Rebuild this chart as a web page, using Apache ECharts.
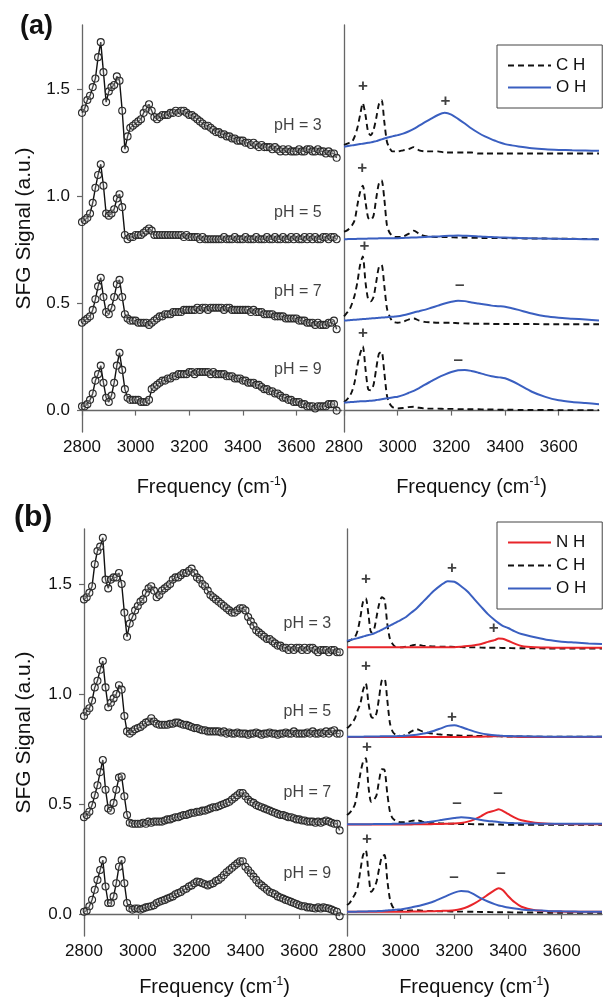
<!DOCTYPE html>
<html><head><meta charset="utf-8">
<script src="https://cdn.jsdelivr.net/npm/echarts@6/dist/echarts.min.js"></script>
<style>html,body{margin:0;padding:0;background:#fff}#c{width:603px;height:1001px}</style>
</head><body><div id="c"></div>
<script>
// ---------- measured spectra (left panels) ----------
const freq=[2800,2810,2820,2830,2840,2850,2860,2870,2880,2890,
2900,2910,2920,2930,2940,2950,2960,2970,2980,2990,
3000,3010,3020,3030,3040,3050,3060,3070,3080,3090,
3100,3110,3120,3130,3140,3150,3160,3170,3180,3190,
3200,3210,3220,3230,3240,3250,3260,3270,3280,3290,
3300,3310,3320,3330,3340,3350,3360,3370,3380,3390,
3400,3410,3420,3430,3440,3450,3460,3470,3480,3490,
3500,3510,3520,3530,3540,3550,3560,3570,3580,3590,
3600,3610,3620,3630,3640,3650,3660,3670,3680,3690,
3700,3710,3720,3730,3740,3750];
const yTicks=[0,0.5,1.0,1.5];
const xTicks=[2800,3000,3200,3400,3600];

const a_pH3=[1.39,1.41,1.45,1.47,1.51,1.55,1.65,1.72,1.58,1.44,
1.49,1.51,1.52,1.56,1.54,1.40,1.22,1.28,1.32,1.33,
1.34,1.35,1.36,1.39,1.41,1.43,1.40,1.37,1.36,1.37,
1.38,1.38,1.38,1.39,1.39,1.40,1.39,1.40,1.40,1.39,
1.38,1.38,1.37,1.36,1.35,1.34,1.33,1.33,1.32,1.31,
1.30,1.30,1.29,1.29,1.28,1.28,1.27,1.27,1.26,1.26,
1.26,1.25,1.25,1.24,1.25,1.24,1.23,1.24,1.23,1.23,
1.23,1.22,1.23,1.22,1.21,1.22,1.21,1.22,1.21,1.21,
1.21,1.22,1.21,1.21,1.22,1.22,1.21,1.21,1.22,1.21,
1.21,1.20,1.21,1.20,1.20,1.18];
const a_pH5=[0.88,0.89,0.90,0.92,0.97,1.04,1.10,1.15,1.05,0.92,
0.91,0.92,0.94,0.99,1.01,0.95,0.82,0.80,0.81,0.81,
0.82,0.82,0.82,0.83,0.84,0.85,0.84,0.82,0.82,0.82,
0.82,0.82,0.82,0.82,0.82,0.82,0.82,0.82,0.81,0.82,
0.81,0.81,0.81,0.81,0.80,0.81,0.80,0.80,0.80,0.80,
0.80,0.80,0.80,0.81,0.80,0.80,0.80,0.81,0.80,0.80,
0.80,0.81,0.80,0.80,0.80,0.81,0.80,0.80,0.80,0.81,
0.80,0.80,0.81,0.80,0.80,0.81,0.80,0.80,0.81,0.80,
0.81,0.80,0.80,0.81,0.80,0.81,0.80,0.81,0.80,0.80,
0.81,0.81,0.80,0.81,0.81,0.80];
const a_pH7=[0.41,0.42,0.43,0.44,0.47,0.52,0.58,0.62,0.53,0.46,
0.45,0.48,0.53,0.59,0.61,0.53,0.45,0.43,0.42,0.42,
0.42,0.41,0.41,0.41,0.41,0.40,0.41,0.42,0.43,0.44,
0.44,0.45,0.45,0.45,0.46,0.46,0.46,0.46,0.47,0.47,
0.47,0.47,0.47,0.48,0.47,0.48,0.48,0.47,0.48,0.48,
0.48,0.48,0.48,0.47,0.48,0.48,0.47,0.47,0.47,0.47,
0.47,0.47,0.47,0.46,0.47,0.46,0.46,0.46,0.45,0.45,
0.45,0.45,0.44,0.44,0.44,0.44,0.43,0.43,0.43,0.43,
0.43,0.42,0.42,0.42,0.41,0.41,0.41,0.40,0.41,0.40,
0.40,0.40,0.41,0.41,0.42,0.38];
const a_pH9=[0.02,0.02,0.03,0.05,0.08,0.14,0.17,0.21,0.13,0.06,
0.04,0.07,0.13,0.21,0.27,0.19,0.10,0.06,0.05,0.05,
0.05,0.05,0.04,0.04,0.04,0.05,0.10,0.11,0.12,0.13,
0.14,0.14,0.15,0.15,0.16,0.16,0.17,0.17,0.17,0.17,
0.18,0.18,0.17,0.18,0.18,0.18,0.18,0.18,0.17,0.18,
0.17,0.17,0.17,0.17,0.16,0.16,0.16,0.15,0.15,0.15,
0.14,0.14,0.13,0.13,0.13,0.12,0.12,0.11,0.10,0.10,
0.09,0.09,0.08,0.08,0.07,0.06,0.06,0.05,0.05,0.04,
0.04,0.04,0.03,0.03,0.02,0.02,0.02,0.01,0.02,0.02,
0.02,0.02,0.03,0.03,0.03,0.00];

const b_pH3=[1.43,1.44,1.46,1.49,1.59,1.65,1.67,1.71,1.52,1.48,
1.52,1.53,1.53,1.55,1.50,1.37,1.26,1.32,1.35,1.38,
1.40,1.42,1.43,1.46,1.48,1.49,1.47,1.44,1.45,1.47,
1.48,1.49,1.50,1.52,1.53,1.53,1.54,1.55,1.55,1.56,
1.57,1.55,1.53,1.52,1.50,1.49,1.47,1.45,1.44,1.43,
1.42,1.41,1.40,1.39,1.38,1.37,1.37,1.38,1.39,1.39,
1.38,1.35,1.33,1.31,1.29,1.28,1.27,1.26,1.25,1.25,
1.24,1.23,1.22,1.22,1.21,1.21,1.20,1.21,1.20,1.21,
1.21,1.20,1.21,1.20,1.21,1.21,1.20,1.19,1.20,1.20,
1.20,1.19,1.20,1.20,1.19,1.19];
const b_pH5=[0.90,0.92,0.935,0.97,1.03,1.06,1.11,1.15,1.03,0.94,
0.96,0.98,1.00,1.04,1.02,0.90,0.83,0.82,0.83,0.84,
0.845,0.85,0.86,0.87,0.875,0.89,0.875,0.865,0.86,0.86,
0.86,0.86,0.865,0.865,0.87,0.87,0.865,0.86,0.86,0.855,
0.85,0.845,0.845,0.84,0.835,0.835,0.83,0.83,0.83,0.83,
0.83,0.825,0.83,0.82,0.825,0.82,0.82,0.825,0.82,0.82,
0.82,0.815,0.82,0.82,0.825,0.82,0.815,0.82,0.82,0.825,
0.82,0.82,0.815,0.82,0.82,0.825,0.82,0.82,0.83,0.82,
0.82,0.82,0.82,0.825,0.82,0.83,0.82,0.82,0.825,0.82,
0.83,0.82,0.83,0.835,0.82,0.82];
const b_pH7=[0.44,0.45,0.465,0.495,0.54,0.585,0.645,0.70,0.565,0.48,
0.47,0.505,0.565,0.62,0.625,0.535,0.45,0.415,0.41,0.41,
0.41,0.41,0.415,0.41,0.42,0.415,0.42,0.42,0.42,0.42,
0.425,0.43,0.43,0.435,0.44,0.44,0.445,0.45,0.45,0.455,
0.46,0.46,0.465,0.465,0.47,0.47,0.475,0.48,0.485,0.485,
0.49,0.495,0.50,0.505,0.51,0.52,0.53,0.54,0.55,0.55,
0.535,0.52,0.51,0.505,0.495,0.49,0.485,0.48,0.475,0.47,
0.465,0.46,0.455,0.45,0.45,0.445,0.44,0.44,0.435,0.43,
0.43,0.425,0.425,0.42,0.42,0.42,0.415,0.42,0.415,0.42,
0.425,0.42,0.415,0.41,0.41,0.38];
const b_pH9=[0.01,0.015,0.035,0.065,0.11,0.155,0.20,0.245,0.125,0.05,
0.05,0.08,0.14,0.215,0.245,0.14,0.05,0.027,0.02,0.025,
0.025,0.02,0.025,0.03,0.033,0.035,0.04,0.05,0.056,0.06,
0.064,0.07,0.075,0.08,0.09,0.095,0.10,0.11,0.115,0.125,
0.13,0.14,0.147,0.145,0.14,0.135,0.13,0.135,0.14,0.15,
0.155,0.165,0.177,0.19,0.20,0.21,0.22,0.23,0.24,0.24,
0.215,0.20,0.185,0.17,0.155,0.14,0.13,0.12,0.11,0.10,
0.095,0.09,0.08,0.075,0.07,0.064,0.06,0.055,0.05,0.045,
0.04,0.035,0.035,0.03,0.03,0.027,0.025,0.03,0.025,0.03,
0.027,0.025,0.02,0.015,0.01,-0.01];

// ---------- fitted components (right panels) ----------
const fitFreq=[2800,2810,2820,2830,2840,2850,2860,2870,2880,2890,2900,2910,2920,2930,2940,2950,2960,2970,2980,2990,3000,
3020,3040,3060,3080,3100,
3125,3150,3175,3200,3225,3250,3275,3300,3325,3350,
3365,3380,3400,3425,3450,
3500,3550,3600,3650,3700,3750];

const aCH3=[1.24,1.245,1.25,1.255,1.28,1.32,1.38,1.435,1.38,1.30,1.285,1.31,1.365,1.43,1.45,1.35,1.255,1.225,1.21,1.21,1.21,
1.215,1.22,1.23,1.215,1.21,
1.21,1.21,1.205,1.205,1.205,1.205,1.205,1.2,1.2,1.2,
1.2,1.2,1.2,1.2,1.2,
1.2,1.2,1.2,1.2,1.2,1.2];
const aOH3=[1.232,1.234,1.236,1.238,1.24,1.242,1.244,1.246,1.248,1.25,1.252,1.255,1.258,1.262,1.266,1.27,1.274,1.277,1.28,1.283,1.286,
1.293,1.303,1.315,1.33,1.345,
1.363,1.38,1.39,1.382,1.362,1.34,1.317,1.297,1.28,1.266,
1.259,1.252,1.244,1.238,1.233,
1.225,1.22,1.217,1.215,1.214,1.213];
const aCH5=[0.835,0.84,0.85,0.865,0.89,0.96,1.02,1.05,0.975,0.90,0.89,0.91,0.99,1.06,1.075,0.99,0.865,0.83,0.815,0.81,0.81,
0.812,0.825,0.84,0.825,0.815,
0.812,0.81,0.81,0.809,0.808,0.808,0.807,0.806,0.806,0.805,
0.805,0.805,0.805,0.804,0.804,
0.803,0.803,0.802,0.802,0.801,0.80];
const aOH5=[0.80,0.80,0.801,0.801,0.801,0.802,0.802,0.802,0.802,0.803,0.803,0.803,0.803,0.804,0.804,0.804,0.804,0.805,0.805,0.805,0.805,
0.806,0.807,0.808,0.809,0.81,
0.812,0.813,0.815,0.816,0.817,0.816,0.815,0.813,0.811,0.81,
0.809,0.808,0.808,0.807,0.806,
0.804,0.803,0.802,0.801,0.80,0.80];
const aCH7=[0.44,0.455,0.47,0.50,0.54,0.60,0.68,0.72,0.60,0.52,0.51,0.53,0.60,0.67,0.68,0.585,0.477,0.44,0.417,0.412,0.41,
0.415,0.425,0.43,0.42,0.414,
0.412,0.41,0.41,0.41,0.408,0.407,0.406,0.405,0.405,0.405,
0.404,0.404,0.404,0.404,0.404,
0.404,0.403,0.403,0.403,0.403,0.403];
const aOH7=[0.42,0.421,0.422,0.423,0.424,0.425,0.426,0.427,0.428,0.429,0.43,0.431,0.432,0.433,0.434,0.435,0.436,0.437,0.438,0.439,0.44,
0.445,0.451,0.458,0.464,0.47,
0.48,0.49,0.50,0.508,0.513,0.511,0.505,0.50,0.495,0.49,
0.488,0.487,0.485,0.478,0.47,
0.453,0.44,0.433,0.429,0.425,0.42];
const aCH9=[0.04,0.05,0.065,0.09,0.135,0.21,0.265,0.30,0.195,0.10,0.095,0.12,0.195,0.265,0.275,0.18,0.07,0.033,0.017,0.012,0.01,
0.012,0.016,0.018,0.013,0.01,
0.009,0.009,0.008,0.008,0.007,0.007,0.006,0.006,0.005,0.005,
0.005,0.004,0.004,0.004,0.003,
0.003,0.003,0.002,0.002,0.002,0.002];
const aOH9=[0.037,0.038,0.039,0.04,0.041,0.042,0.043,0.044,0.044,0.045,0.046,0.047,0.049,0.051,0.053,0.055,0.057,0.059,0.061,0.063,0.065,
0.072,0.082,0.092,0.105,0.12,
0.137,0.154,0.168,0.18,0.188,0.19,0.185,0.177,0.168,0.16,
0.157,0.155,0.151,0.138,0.122,
0.088,0.064,0.048,0.04,0.035,0.03];

const bCH3=[1.238,1.243,1.25,1.26,1.29,1.35,1.42,1.435,1.36,1.28,1.29,1.35,1.41,1.44,1.43,1.32,1.25,1.227,1.215,1.212,1.212,
1.215,1.22,1.225,1.22,1.218,
1.216,1.215,1.215,1.214,1.213,1.212,1.212,1.211,1.21,1.21,
1.21,1.209,1.209,1.208,1.208,
1.208,1.207,1.207,1.207,1.207,1.207];
const bOH3=[1.242,1.245,1.248,1.251,1.254,1.258,1.261,1.265,1.268,1.271,1.275,1.28,1.286,1.292,1.298,1.305,1.311,1.317,1.323,1.33,1.336,
1.35,1.37,1.39,1.415,1.44,
1.47,1.495,1.513,1.51,1.49,1.465,1.43,1.396,1.363,1.336,
1.322,1.31,1.30,1.285,1.273,
1.258,1.245,1.238,1.234,1.23,1.227];
const bNH3=[1.212,1.212,1.212,1.212,1.212,1.212,1.212,1.212,1.212,1.212,1.212,1.212,1.212,1.212,1.212,1.212,1.212,1.212,1.212,1.212,1.212,
1.212,1.212,1.212,1.212,1.212,
1.212,1.212,1.213,1.213,1.215,1.218,1.222,1.227,1.237,1.245,
1.252,1.251,1.242,1.229,1.218,
1.212,1.211,1.21,1.21,1.21,1.21];
const bCH5=[0.844,0.855,0.87,0.89,0.927,0.957,1.018,1.048,0.958,0.897,0.89,0.913,0.988,1.064,1.068,0.973,0.867,0.829,0.816,0.811,0.809,
0.815,0.83,0.84,0.83,0.824,
0.819,0.816,0.814,0.812,0.811,0.81,0.81,0.809,0.808,0.808,
0.808,0.807,0.807,0.807,0.807,
0.806,0.806,0.806,0.806,0.806,0.806];
const bOH5=[0.806,0.806,0.806,0.806,0.806,0.806,0.806,0.807,0.807,0.807,0.807,0.807,0.807,0.808,0.808,0.808,0.808,0.808,0.808,0.809,0.809,
0.81,0.812,0.815,0.819,0.824,
0.833,0.844,0.855,0.858,0.85,0.839,0.829,0.821,0.816,0.812,
0.811,0.81,0.809,0.808,0.808,
0.807,0.806,0.806,0.806,0.806,0.806];
const bNH5=[0.805,0.805,0.805,0.805,0.805,0.805,0.805,0.805,0.805,0.805,0.805,0.805,0.805,0.805,0.805,0.805,0.805,0.805,0.805,0.805,0.805,
0.805,0.805,0.805,0.805,0.805,
0.805,0.805,0.805,0.805,0.805,0.805,0.806,0.806,0.807,0.808,
0.809,0.808,0.807,0.806,0.805,
0.805,0.805,0.805,0.805,0.805,0.805];
const bCH7=[0.45,0.46,0.475,0.50,0.564,0.64,0.692,0.708,0.578,0.51,0.518,0.54,0.61,0.658,0.655,0.549,0.465,0.435,0.425,0.42,0.417,
0.418,0.423,0.427,0.42,0.415,
0.413,0.412,0.411,0.41,0.409,0.409,0.408,0.408,0.407,0.407,
0.407,0.406,0.406,0.406,0.406,
0.405,0.405,0.405,0.405,0.405,0.405];
const bOH7=[0.408,0.408,0.408,0.408,0.408,0.408,0.408,0.408,0.408,0.408,0.409,0.409,0.409,0.409,0.409,0.409,0.409,0.41,0.41,0.41,0.41,
0.411,0.412,0.413,0.415,0.418,
0.422,0.427,0.432,0.436,0.44,0.438,0.433,0.427,0.423,0.42,
0.418,0.416,0.414,0.413,0.412,
0.411,0.41,0.41,0.41,0.41,0.41];
const bNH7=[0.407,0.407,0.407,0.407,0.407,0.407,0.407,0.407,0.407,0.407,0.407,0.407,0.407,0.407,0.407,0.407,0.407,0.407,0.407,0.407,0.407,
0.407,0.407,0.408,0.408,0.408,
0.409,0.409,0.41,0.411,0.414,0.42,0.43,0.445,0.462,0.47,
0.476,0.469,0.455,0.438,0.426,
0.415,0.41,0.409,0.408,0.408,0.408];
const bCH9=[0.041,0.05,0.071,0.09,0.124,0.20,0.268,0.29,0.185,0.101,0.117,0.147,0.208,0.26,0.268,0.155,0.067,0.033,0.021,0.017,0.015,
0.015,0.016,0.017,0.015,0.014,
0.013,0.012,0.012,0.011,0.011,0.01,0.01,0.009,0.009,0.008,
0.008,0.008,0.008,0.007,0.007,
0.007,0.006,0.006,0.006,0.006,0.006];
const bOH9=[0.01,0.01,0.01,0.01,0.011,0.011,0.011,0.011,0.012,0.012,0.013,0.013,0.014,0.014,0.015,0.016,0.017,0.018,0.019,0.02,0.021,
0.025,0.03,0.035,0.041,0.048,
0.058,0.071,0.085,0.097,0.104,0.102,0.088,0.071,0.057,0.045,
0.039,0.035,0.03,0.025,0.021,
0.017,0.014,0.012,0.011,0.01,0.01];
const bNH9=[0.01,0.01,0.01,0.01,0.01,0.01,0.01,0.01,0.01,0.01,0.01,0.01,0.01,0.01,0.01,0.01,0.01,0.01,0.01,0.01,0.01,
0.01,0.011,0.011,0.011,0.012,
0.013,0.014,0.015,0.017,0.023,0.033,0.048,0.067,0.088,0.109,
0.117,0.109,0.082,0.053,0.033,
0.017,0.012,0.011,0.01,0.01,0.01];

// ---------- annotations ----------
const pHLabelsA=[['pH = 3',3605,1.33],['pH = 5',3605,0.925],['pH = 7',3605,0.556],['pH = 9',3605,0.19]];
const pHLabelsB=[['pH = 3',3630,1.32],['pH = 5',3630,0.92],['pH = 7',3630,0.55],['pH = 9',3630,0.185]];
const signsA=[['+',2871,1.514],['+',3178,1.444],['+',2868,1.131],['+',2876,0.766],['\u2013',3231,0.584],['+',2871,0.36],['\u2013',3226,0.234]];
const signsB=[['+',2871,1.523],['+',3191,1.573],['+',3347,1.30],['+',2871,1.127],['+',3191,0.895],['+',2874,0.759],['\u2013',3210,0.505],['\u2013',3362,0.55],['+',2874,0.341],['\u2013',3199,0.168],['\u2013',3374,0.186]];

const FONT='"Liberation Sans", Arial, sans-serif';
const TXT='#111', AX='#666';
const C_CH='#111111', C_OH='#3a5fc0', C_NH='#e8252a';
const zip=(xs,ys)=>xs.map((x,i)=>[x,ys[i]]);

function xAxis(gi,max,gap){
  return {type:'value',gridIndex:gi,min:2800,max:max,
    axisLine:{show:true,lineStyle:{color:AX,width:1.3}},
    axisTick:{show:true,inside:false,length:5,lineStyle:{color:AX,width:1.2},customValues:xTicks},
    axisLabel:{show:true,margin:7,fontSize:17,color:TXT,fontFamily:FONT,customValues:xTicks,formatter:v=>String(v)},
    splitLine:{show:false},
    name:'{n|Frequency (cm}{s|-1}{n|)}',nameLocation:'middle',nameGap:gap,
    nameTextStyle:{rich:{n:{fontSize:20,color:TXT,fontFamily:FONT,lineHeight:22},s:{fontSize:12,color:TXT,fontFamily:FONT,verticalAlign:'top',lineHeight:13}}}};
}
function yAxis(gi,max,left,gap){
  const o={type:'value',gridIndex:gi,min:-0.1,max:max,
    axisLine:{show:true,lineStyle:{color:AX,width:1.3}},
    axisTick:{show:left,inside:false,length:5,lineStyle:{color:AX,width:1.2},customValues:yTicks},
    axisLabel:{show:left,margin:12,fontSize:17,color:TXT,fontFamily:FONT,customValues:yTicks,formatter:v=>(+v).toFixed(1)},
    splitLine:{show:false}};
  if(left){o.name='SFG Signal (a.u.)';o.nameLocation='middle';o.nameGap=gap;
    o.nameTextStyle={fontSize:21,color:TXT,fontFamily:FONT};}
  return o;
}
function dataSeries(name,xi,ys){
  return {name:name,type:'line',xAxisIndex:xi,yAxisIndex:xi,data:zip(freq,ys),
    showSymbol:true,showAllSymbol:true,symbol:'circle',symbolSize:7,
    lineStyle:{color:'#111',width:1.4},
    itemStyle:{color:'rgba(230,230,230,0.25)',borderColor:'#2a2a2a',borderWidth:1.1},
    emphasis:{disabled:true},z:2};
}
function fitSeries(name,xi,ys,color,dashed){
  return {name:name,type:'line',xAxisIndex:xi,yAxisIndex:xi,data:zip(fitFreq,ys),
    showSymbol:false,symbol:'none',smooth:0.25,color:color,
    lineStyle:{color:color,width:dashed?1.9:2,type:dashed?[6,4]:'solid'},
    emphasis:{disabled:true},z:dashed?2:3};
}
function textSeries(xi,arr,size,bold){
  return {type:'scatter',xAxisIndex:xi,yAxisIndex:xi,symbolSize:1,
    itemStyle:{color:'rgba(0,0,0,0)'},silent:true,z:5,
    data:arr.map(a=>({name:a[0],value:[a[1],a[2]]})),
    label:{show:true,position:'inside',formatter:p=>p.name,fontSize:size,
      fontWeight:bold?'bold':'normal',color:TXT,fontFamily:FONT}};
}

const series=[
  dataSeries('a3',0,a_pH3),dataSeries('a5',0,a_pH5),dataSeries('a7',0,a_pH7),dataSeries('a9',0,a_pH9),
  fitSeries('CH',1,aCH3,C_CH,true),fitSeries('CH',1,aCH5,C_CH,true),fitSeries('CH',1,aCH7,C_CH,true),fitSeries('CH',1,aCH9,C_CH,true),
  fitSeries('OH',1,aOH3,C_OH,false),fitSeries('OH',1,aOH5,C_OH,false),fitSeries('OH',1,aOH7,C_OH,false),fitSeries('OH',1,aOH9,C_OH,false),
  dataSeries('b3',2,b_pH3),dataSeries('b5',2,b_pH5),dataSeries('b7',2,b_pH7),dataSeries('b9',2,b_pH9),
  fitSeries('NH',3,bNH3,C_NH,false),
  fitSeries('CH',3,bCH3,C_CH,true),fitSeries('CH',3,bCH5,C_CH,true),fitSeries('CH',3,bCH7,C_CH,true),fitSeries('CH',3,bCH9,C_CH,true),
  fitSeries('NH',3,bNH5,C_NH,false),fitSeries('NH',3,bNH7,C_NH,false),fitSeries('NH',3,bNH9,C_NH,false),
  fitSeries('OH',3,bOH3,C_OH,false),fitSeries('OH',3,bOH5,C_OH,false),fitSeries('OH',3,bOH7,C_OH,false),fitSeries('OH',3,bOH9,C_OH,false),
  textSeries(0,pHLabelsA,16,false),textSeries(2,pHLabelsB,16,false),
  textSeries(1,signsA,17,true),textSeries(3,signsB,17,true)
];

const legendCommon={orient:'vertical',itemWidth:43,itemHeight:14,borderColor:'#444',borderWidth:1,
  backgroundColor:'#fff',selectedMode:false,
  itemStyle:{opacity:0},
  textStyle:{fontSize:17,color:TXT,fontFamily:FONT},formatter:n=>n.split('').join(' ')};

const chart=echarts.init(document.getElementById('c'),null,{renderer:'canvas'});
chart.setOption({
  animation:false,backgroundColor:'#fff',
  grid:[
    {left:82,top:25,width:260,height:407},
    {left:344,top:25,width:255,height:407},
    {left:84,top:529,width:261,height:407},
    {left:347,top:529,width:255,height:407}
  ],
  xAxis:[xAxis(0,3770,44),xAxis(1,3750,44),xAxis(2,3770,40),xAxis(3,3750,40)],
  yAxis:[yAxis(0,1.8,true,47),yAxis(1,1.8,false,0),yAxis(2,1.75,true,49),yAxis(3,1.75,false,0)],
  legend:[
    Object.assign({},legendCommon,{data:['CH','OH'],left:497,top:45,itemGap:5,padding:[12,16,12,10]}),
    Object.assign({},legendCommon,{data:['NH','CH','OH'],left:497,top:522,itemGap:6,padding:[12,16,12,10]})
  ],
  graphic:[
    {type:'text',left:20,top:13,style:{text:'(a)',font:'bold 27px "Liberation Sans", Arial, sans-serif',fill:'#111'}},
    {type:'text',left:14,top:503,style:{text:'(b)',font:'bold 30px "Liberation Sans", Arial, sans-serif',fill:'#111'}}
  ],
  series:series
});
</script></body></html>
